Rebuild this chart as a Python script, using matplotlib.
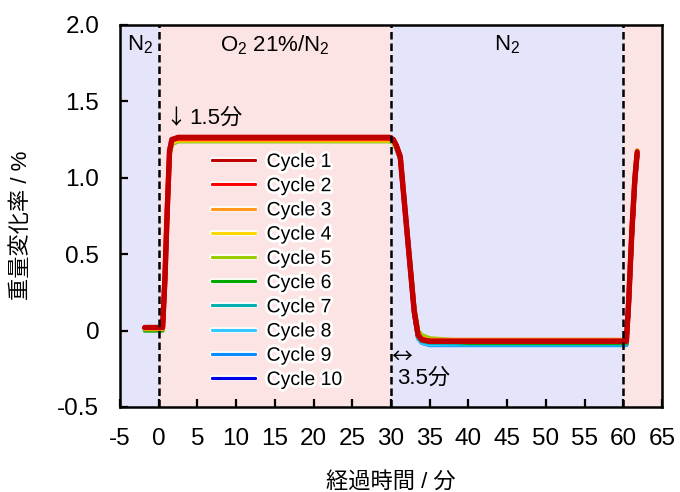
import matplotlib
matplotlib.use("Agg")
import matplotlib.pyplot as plt
import matplotlib.patheffects as pe

plt.rcParams['font.family'] = ['Liberation Sans', 'Noto Sans CJK JP', 'DejaVu Sans']
plt.rcParams['mathtext.fontset'] = 'custom'
plt.rcParams['mathtext.rm'] = 'Liberation Sans'
plt.rcParams['axes.unicode_minus'] = False

# ---- data ----
time_min = [-1.8, 0.5, 0.8, 1.1, 1.4, 1.7, 2.5, 10, 20, 29.8, 30.3, 30.7, 31.2,
            32.0, 32.5, 33.0, 33.5, 34.0, 35.0, 40, 50, 60.4, 60.7, 61.1, 61.5, 61.8]

cycle1 = [0.02, 0.02, 0.35, 0.80, 1.18, 1.25, 1.265, 1.265, 1.265, 1.265, 1.25, 1.21, 1.14,
          0.69, 0.41, 0.13, -0.03, -0.06, -0.07, -0.07, -0.07, -0.07, 0.20, 0.65, 1.00, 1.17]
cycle2 = [0.02, 0.02, 0.33, 0.78, 1.17, 1.25, 1.26, 1.26, 1.26, 1.26, 1.25, 1.21, 1.13,
          0.68, 0.40, 0.12, -0.03, -0.06, -0.07, -0.07, -0.07, -0.07, 0.18, 0.63, 0.99, 1.16]
cycle3 = [0.02, 0.02, 0.34, 0.79, 1.17, 1.24, 1.25, 1.25, 1.25, 1.25, 1.24, 1.20, 1.13,
          0.69, 0.41, 0.13, -0.02, -0.05, -0.06, -0.06, -0.06, -0.06, 0.20, 0.66, 1.01, 1.18]
cycle4 = [0.01, 0.01, 0.33, 0.78, 1.16, 1.23, 1.245, 1.245, 1.245, 1.245, 1.235, 1.20, 1.13,
          0.69, 0.42, 0.14, -0.02, -0.05, -0.065, -0.07, -0.07, -0.07, 0.19, 0.64, 1.00, 1.18]
cycle5 = [0.01, 0.01, 0.32, 0.77, 1.15, 1.22, 1.24, 1.24, 1.24, 1.24, 1.23, 1.19, 1.12,
          0.70, 0.43, 0.16, 0.00, -0.03, -0.05, -0.07, -0.07, -0.075, 0.17, 0.62, 0.98, 1.15]
cycle6 = [0.00, 0.00, 0.31, 0.76, 1.15, 1.22, 1.24, 1.24, 1.24, 1.24, 1.23, 1.19, 1.12,
          0.69, 0.42, 0.15, -0.01, -0.04, -0.06, -0.08, -0.08, -0.08, 0.16, 0.61, 0.97, 1.15]
cycle7 = [0.01, 0.01, 0.32, 0.77, 1.16, 1.23, 1.25, 1.25, 1.25, 1.25, 1.24, 1.20, 1.13,
          0.68, 0.40, 0.12, -0.04, -0.07, -0.08, -0.085, -0.085, -0.085, 0.16, 0.61, 0.97, 1.15]
cycle8 = [0.01, 0.01, 0.32, 0.77, 1.16, 1.23, 1.25, 1.25, 1.25, 1.25, 1.24, 1.20, 1.13,
          0.68, 0.40, 0.11, -0.05, -0.08, -0.09, -0.09, -0.09, -0.09, 0.15, 0.60, 0.96, 1.14]
cycle9 = [0.01, 0.01, 0.33, 0.78, 1.16, 1.23, 1.25, 1.25, 1.25, 1.25, 1.24, 1.20, 1.13,
          0.68, 0.40, 0.11, -0.05, -0.08, -0.095, -0.095, -0.095, -0.095, 0.15, 0.60, 0.96, 1.14]
cycle10 = [0.01, 0.01, 0.33, 0.78, 1.17, 1.24, 1.255, 1.255, 1.255, 1.255, 1.245, 1.21, 1.13,
           0.68, 0.40, 0.11, -0.05, -0.08, -0.09, -0.09, -0.09, -0.09, 0.15, 0.60, 0.96, 1.14]

series = [cycle1, cycle2, cycle3, cycle4, cycle5, cycle6, cycle7, cycle8, cycle9, cycle10]
labels = ['Cycle 1', 'Cycle 2', 'Cycle 3', 'Cycle 4', 'Cycle 5',
          'Cycle 6', 'Cycle 7', 'Cycle 8', 'Cycle 9', 'Cycle 10']
colors = ['#C00000', '#FF0000', '#FF9A1A', '#FFD700', '#9ACD00',
          '#00A800', '#00B0B0', '#33C8FF', '#0A8CFF', '#0000E8']

switch_times = [0, 30, 60]
gas_spans = [(-5, 0, 'N2'), (0, 30, 'O2'), (30, 60, 'N2'), (60, 65, 'O2')]
xticks = list(range(-5, 70, 5))
yticks = [-0.5, 0, 0.5, 1.0, 1.5, 2.0]
ytick_labels = ['-0.5', '0', '0.5', '1.0', '1.5', '2.0']

span_colors = {'N2': '#E4E4FB', 'O2': '#FDE4E4'}

# ---- figure ----
fig = plt.figure(figsize=(6.8, 4.92), dpi=100)
ax = fig.add_axes([0.1765, 0.1728, 0.7970, 0.7764])

for x0, x1, g in gas_spans:
    ax.axvspan(x0, x1, color=span_colors[g], lw=0, zorder=0)
for xs in switch_times:
    ax.axvline(xs, color='black', lw=1.8, ls=(0, (3.0, 1.6)), zorder=30)

for i, (vals, lab, col) in enumerate(zip(series, labels, colors)):
    lw = 3.8 if i < 2 else 3.0
    ax.plot(time_min, vals, color=col, lw=lw, label=lab, zorder=20 - i,
            solid_joinstyle='round', solid_capstyle='round')

ax.set_xlim(-5, 65)
ax.set_ylim(-0.5, 2.0)
ax.set_xticks(xticks)
ax.set_yticks(yticks)
ax.set_yticklabels(ytick_labels)
ax.tick_params(direction='in', length=6, width=1.6, labelsize=17.5,
               top=False, right=False)
ax.tick_params(axis='x', pad=15)
ax.tick_params(axis='y', pad=15)
for s in ax.spines.values():
    s.set_linewidth(1.8)
    s.set_zorder(40)

ax.set_xlabel('経過時間 / 分', fontsize=16, labelpad=16)
ax.set_ylabel('重量変化率 / %', fontsize=16)
ax.yaxis.set_label_coords(-0.163, 0.476)

# region labels
ax.text(-2.4, 1.87, r'N$_2$', fontsize=16, ha='center', va='center', zorder=35)
ax.text(15, 1.87, r'O$_2$ 21%/N$_2$', fontsize=16, ha='center', va='center', zorder=35)
ax.text(45, 1.87, r'N$_2$', fontsize=16, ha='center', va='center', zorder=35)

cjk = ['Noto Sans CJK JP', 'DejaVu Sans']
ax.text(0.9, 1.39, '↓', fontsize=15, family=cjk, ha='left', va='center', zorder=35)
ax.text(4.0, 1.39, '1.5分', fontsize=16, ha='left', va='center', zorder=35)
ax.text(30.0, -0.17, '↔', fontsize=15, family=cjk, ha='left', va='center', zorder=35)
ax.text(30.8, -0.31, '3.5分', fontsize=16, ha='left', va='center', zorder=35)

leg = ax.legend(loc='upper left', bbox_to_anchor=(0.17, 0.664), frameon=False,
                fontsize=14, handlelength=2.2, handletextpad=0.6,
                labelspacing=0.34, borderpad=0, borderaxespad=0)
leg.set_zorder(50)
for t in leg.get_texts():
    t.set_path_effects([pe.withStroke(linewidth=4, foreground='white')])
for h in leg.legend_handles:
    h.set_linewidth(2.2)
    h.set_path_effects([pe.withStroke(linewidth=4, foreground='white'), pe.Normal()])

fig.savefig('out.png', dpi=100)
